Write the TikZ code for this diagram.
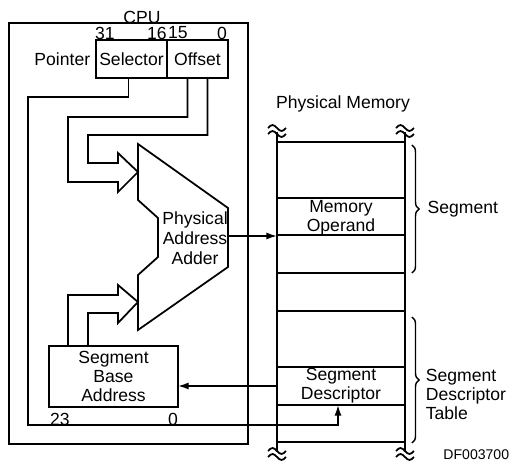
\documentclass[tikz,border=0pt]{standalone}
\usepackage{fontspec}
\setmainfont{Liberation Sans}
\usetikzlibrary{arrows.meta, positioning, fit, calc, decorations.pathreplacing}

\begin{document}
\begin{tikzpicture}[
    x=0.02cm, y=-0.02cm,
    line width=1pt,
    font=\fontsize{10}{10.8}\selectfont,
    reg/.style={rectangle, draw, inner sep=0pt, outer sep=0pt, minimum height=0.76cm},
    mrow/.style={rectangle, draw, inner sep=0pt, outer sep=0pt, minimum width=2.56cm},
    txt/.style={inner sep=0pt, align=center},
    bit/.style={inner sep=0pt},
    arr/.style={-{Latex[length=6pt, width=4pt]}},
    brc/.style={decorate, decoration={brace, amplitude=4pt}, line width=0.8pt},
    squig/.pic={
        \draw (-9,-3) sin (-4.5,-6) cos (0,-3) sin (4.5,0) cos (9,-3);
        \draw (-9,3) sin (-4.5,0) cos (0,3) sin (4.5,6) cos (9,3);
    }
]
\useasboundingbox (0,0) rectangle (512,463);

% CPU side
\node[draw, fit={(9,23) (248,444)}, inner sep=0pt] (cpu) {};
\node[txt] (cpulbl) at (142,17) {CPU};

\node[reg, minimum width=1.42cm] (sel) at (131.5,59) {Selector};
\node[reg, minimum width=1.22cm, right=0pt of sel] (off) {Offset};
\node[txt, left=0.1cm of sel] (ptr) {Pointer};
\node[bit] (b31) at (105,33) {31};
\node[bit] (b16) at (157,33) {16};
\node[bit] (b15) at (178,33) {15};
\node[bit] (b0) at (222,33) {0};

\draw (138,144) -- (228,208) -- (228,267) -- (138,330) -- (138,275)
    -- (158,257) -- (158,218) -- (138,200) -- cycle;
\node[txt, font=\fontsize{10}{11.3}\selectfont] (adder) at (195,238) {Physical\\Address\\Adder};
\coordinate (adout) at (228,236);

\node[reg, minimum width=2.58cm, minimum height=1.22cm, align=center] (sba) at (113.5,376.5) {Segment\\Base\\Address};
\node[bit] (b23) at (60,419) {23};
\node[bit] (b0s) at (173,419) {0};

% physical memory
\node[txt] (pm) at (343,104) {Physical Memory};
\foreach \y/\h/\n in {170/1.12/m1, 216.5/0.74/m2, 254/0.76/m3, 292/0.76/m4,
                      339/1.12/m5, 386/0.76/m6, 423.5/0.74/m7}
    \node[mrow, minimum height=\h cm] (\n) at (341,\y) {};
\node[txt] (mop) at ($(m2)+(0,1)$) {Memory\\Operand};
\node[txt] (sdsc) at (m6) {Segment\\Descriptor};

\draw ($(m1.north west)+(0,-10)$) -- ($(m7.south west)+(0,10)$);
\draw ($(m1.north east)+(0,-10)$) -- ($(m7.south east)+(0,10)$);
\pic at ($(m1.north west)+(0,-11)$) {squig};
\pic at ($(m1.north east)+(0,-11)$) {squig};
\pic at ($(m7.south west)+(0,12)$) {squig};
\pic at ($(m7.south east)+(0,12)$) {squig};

\draw[brc] ($(m1.north east)+(7,3)$) -- ($(m3.south east)+(7,0)$)
    node[txt, midway, right=0.3cm] (seglbl) {Segment};
\draw[brc] ($(m5.north east)+(7,6)$) -- ($(m7.south east)+(7,1)$);
\node[txt, align=left, anchor=west] (sdtlbl) at (425,394) {Segment\\Descriptor\\Table};

% connectors
\draw ($(off.south)+(10,0)$) |- (88,135) |- (118,163) -- (118,153) -- (138,172)
    -- (118,192) -- (118,182) -| (68,117) -| ($(off.south)+(-10,0)$);
\draw ($(sba.north west)+(39,0)$) |- (118,313) -- (118,323) -- (138,302)
    -- (118,285) -- (118,295) -| ($(sba.north west)+(19,0)$);

\draw[arr] (adout) -- (adout -| m2.west);
\draw[arr] (m6.west) -- (m6.west -| sba.east);
\draw[arr] ($(sel.south)+(-3,0)$) |- (28,97) |- ($(m6.south)+(-3,20)$) -- ($(m6.south)+(-3,0)$);

\node[anchor=east, inner sep=0pt, font=\fontsize{8}{8}\selectfont] (dfnum) at (510,455) {DF003700};
\end{tikzpicture}
\end{document}
